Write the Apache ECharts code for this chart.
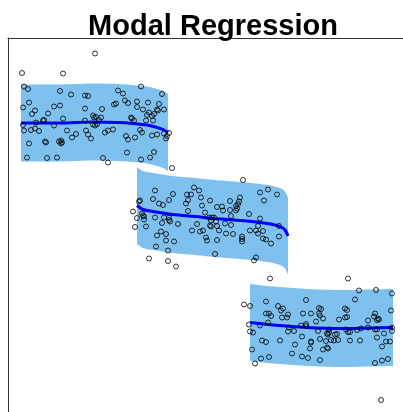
<!DOCTYPE html>
<html>
<head>
<meta charset="utf-8">
<script src="https://cdn.jsdelivr.net/npm/echarts@6/dist/echarts.min.js"></script>
<style>html,body{margin:0;padding:0;background:#fff}#c{width:403px;height:412px}</style>
</head>
<body>
<div id="c"></div>
<script>
const titleText = 'Modal Regression';

const cluster1Points = [
[0.87,7.17],[0.14,6.78],[0.55,6.77],[0.16,6.51],[0.20,6.46],[0.52,6.42],[0.63,6.35],[0.77,6.33],[0.80,6.32],
[1.10,6.43],[1.15,6.37],[1.33,6.51],[1.54,6.36],[0.21,6.19],[0.15,6.09],[0.46,6.11],[0.52,6.13],[0.27,6.03],
[0.24,5.96],[0.40,5.97],[0.77,6.07],[0.85,5.93],[0.86,5.89],[0.94,6.06],[1.06,6.15],[1.08,6.17],[1.17,6.23],
[1.20,6.18],[1.29,6.21],[1.29,6.10],[1.40,6.19],[1.51,6.16],[1.35,6.05],[1.41,5.99],[1.39,5.94],[1.44,5.92],
[1.46,5.96],[1.49,6.05],[1.50,6.03],[1.56,6.05],[0.55,5.87],[0.28,5.79],[0.35,5.83],[0.36,5.84],[0.77,5.83],
[0.85,5.75],[0.87,5.73],[0.93,5.89],[0.91,5.84],[1.23,5.89],[1.24,5.87],[1.26,5.83],[1.38,5.83],[1.45,5.83],
[0.15,5.74],[0.16,5.63],[0.23,5.64],[0.27,5.67],[0.31,5.62],[0.46,5.73],[0.59,5.63],[0.78,5.63],[0.80,5.55],
[0.83,5.47],[0.68,5.56],[0.64,5.49],[0.97,5.59],[1.00,5.63],[1.05,5.65],[1.18,5.52],[1.20,5.45],[1.27,5.49],
[1.32,5.64],[1.34,5.59],[1.44,5.53],[1.49,5.55],[1.56,5.57],[1.59,5.52],[1.61,5.58],[1.58,5.47],[0.21,5.37],
[0.37,5.41],[0.38,5.39],[0.51,5.41],[0.53,5.37],[0.54,5.39],[0.19,5.09],[0.39,5.08],[0.49,5.09],[0.95,5.08],
[1.00,4.99],[1.19,5.19],[1.33,5.05],[1.42,5.09],[1.46,5.20],[1.64,4.88],[0.88,5.90],[0.89,5.76],[0.53,5.43]
];

const cluster2Points = [
[2.35,4.64],[1.47,4.43],[1.65,4.36],[1.86,4.49],[1.91,4.43],[1.79,4.35],[1.83,4.35],[1.45,4.26],[1.61,4.24],
[1.80,4.24],[1.93,4.29],[2.02,4.23],[2.22,4.22],[2.32,4.29],[2.31,4.21],[2.30,4.16],[2.28,4.12],[2.29,4.07],
[2.28,4.03],[2.52,4.39],[2.60,4.45],[2.69,4.35],[2.56,4.23],[1.32,4.23],[1.31,4.21],[1.51,4.17],[1.55,4.14],
[1.78,4.17],[1.94,4.13],[2.09,4.10],[2.14,4.11],[2.15,4.03],[1.80,4.02],[1.97,3.99],[2.22,4.04],[2.41,3.96],
[1.25,4.01],[1.34,3.97],[1.35,3.93],[1.36,3.91],[1.36,3.85],[1.29,3.88],[1.47,3.89],[1.56,3.89],[1.61,3.89],
[1.61,3.84],[1.62,3.81],[1.54,3.78],[1.70,3.76],[1.89,3.76],[2.01,3.89],[2.03,3.83],[2.04,3.89],[2.06,3.89],
[2.08,3.81],[2.03,3.71],[2.09,3.72],[2.11,3.63],[2.17,3.77],[2.23,3.74],[2.23,3.92],[2.52,3.87],[2.50,3.72],
[2.71,3.72],[1.27,3.70],[1.38,3.71],[1.53,3.61],[1.58,3.56],[1.49,3.53],[1.84,3.63],[1.92,3.61],[1.95,3.63],
[1.98,3.49],[1.99,3.43],[2.09,3.44],[2.18,3.57],[2.25,3.56],[2.34,3.51],[2.34,3.46],[2.34,3.41],[2.42,3.63],
[2.48,3.63],[2.50,3.57],[2.55,3.62],[2.55,3.47],[2.58,3.45],[2.63,3.37],[2.71,3.51],[1.58,3.43],[1.66,3.41],
[1.48,3.31],[1.60,3.23],[2.07,3.16],[1.41,3.07],[1.60,3.02],[1.68,2.91],[2.48,3.09],[2.46,3.03],[2.62,2.67],
[2.02,3.73]
];

const cluster3Points = [
[3.40,2.67],[3.51,2.43],[3.68,2.44],[3.84,2.37],[3.47,2.25],[2.58,2.21],[2.98,2.24],[2.36,2.15],[2.42,2.12],
[2.70,2.12],[2.73,2.03],[2.75,2.07],[3.11,2.08],[3.13,2.06],[3.37,2.07],[3.39,2.04],[2.58,1.97],[2.61,1.97],
[2.63,1.92],[2.80,1.95],[2.79,1.89],[2.95,1.97],[3.03,1.97],[3.11,1.97],[3.12,1.93],[3.15,1.87],[3.39,1.90],
[3.37,1.89],[3.31,1.85],[3.67,1.97],[3.66,1.91],[3.70,1.87],[3.69,1.84],[3.71,1.85],[3.83,2.03],[3.60,1.83],
[2.74,1.89],[2.60,1.79],[2.41,1.75],[2.52,1.73],[2.81,1.69],[2.80,1.61],[2.86,1.62],[2.93,1.73],[2.98,1.76],
[2.98,1.72],[3.08,1.81],[3.10,1.62],[3.21,1.65],[3.19,1.57],[3.20,1.55],[3.21,1.59],[3.38,1.65],[3.40,1.60],
[3.42,1.60],[3.49,1.64],[3.53,1.67],[3.60,1.69],[3.67,1.65],[3.69,1.65],[3.76,1.57],[3.84,1.62],[3.84,1.69],
[2.42,1.61],[2.45,1.59],[2.94,1.51],[3.27,1.55],[3.29,1.56],[3.26,1.43],[3.30,1.44],[3.12,1.46],[3.18,1.42],
[3.23,1.44],[3.42,1.43],[3.52,1.43],[3.69,1.49],[2.54,1.43],[2.58,1.40],[2.72,1.43],[2.87,1.35],[3.03,1.41],
[3.03,1.39],[3.78,1.41],[3.82,1.41],[3.74,1.31],[2.44,1.25],[3.02,1.27],[3.15,1.25],[3.19,1.29],[3.20,1.27],
[2.84,1.17],[2.61,1.10],[2.53,1.07],[2.94,1.11],[3.00,1.08],[3.12,1.04],[3.80,1.06],[3.74,1.03],[3.67,0.98],
[2.47,0.97],[3.73,0.24]
];

// Modal regression curves (x, mode)
const curve1X = [0.13,0.50,0.85,1.10,1.25,1.39,1.49,1.55,1.60];
const curve1Y = [5.78,5.78,5.80,5.79,5.77,5.74,5.69,5.65,5.59];
const band1Upper = [6.55,6.55,6.57,6.56,6.54,6.51,6.46,6.42,6.36];
const band1Lower = [5.01,5.01,5.03,5.02,5.00,4.97,4.92,4.88,4.82];

const curve2X = [1.29,1.35,1.45,1.65,1.87,2.07,2.32,2.52,2.65,2.73,2.77,2.80];
const curve2Y = [4.13,4.05,4.01,3.95,3.91,3.87,3.83,3.79,3.75,3.70,3.64,3.52];
const band2Upper = [4.90,4.82,4.78,4.72,4.68,4.64,4.60,4.56,4.52,4.47,4.41,4.29];
const band2Lower = [3.36,3.28,3.24,3.18,3.14,3.10,3.06,3.02,2.98,2.93,2.87,2.75];

const curve3X = [2.42,2.65,2.99,3.32,3.62,3.85];
const curve3Y = [1.79,1.74,1.69,1.67,1.68,1.69];
const band3Upper = [2.56,2.51,2.46,2.44,2.45,2.46];
const band3Lower = [1.02,0.97,0.92,0.90,0.91,0.92];

const bandColor = '#7EC0EE';
const curveColor = '#0000FF';

function catmull(pts, steps) {
  const out = [];
  const n = pts.length;
  for (let i = 0; i < n - 1; i++) {
    const p0 = pts[Math.max(i - 1, 0)], p1 = pts[i], p2 = pts[i + 1], p3 = pts[Math.min(i + 2, n - 1)];
    for (let s = 0; s < steps; s++) {
      const t = s / steps, t2 = t * t, t3 = t2 * t;
      const f = (a, b, c, d) => 0.5 * ((2 * b) + (-a + c) * t + (2 * a - 5 * b + 4 * c - d) * t2 + (-a + 3 * b - 3 * c + d) * t3);
      out.push([f(p0[0], p1[0], p2[0], p3[0]), f(p0[1], p1[1], p2[1], p3[1])]);
    }
  }
  out.push(pts[n - 1]);
  return out;
}

function bandSeries(xs, lo, up) {
  return {
    type: 'custom',
    z: 1,
    silent: true,
    clip: false,
    data: xs.map((x, i) => [x, lo[i], up[i]]),
    encode: { x: 0, y: [1, 2] },
    renderItem: function (params, api) {
      if (params.dataIndex !== 0) return null;
      const upPx = xs.map((x, i) => api.coord([x, up[i]]));
      const loPx = xs.map((x, i) => api.coord([x, lo[i]]));
      const poly = catmull(upPx, 10).concat(catmull(loPx, 10).reverse());
      return { type: 'polygon', shape: { points: poly }, style: { fill: bandColor } };
    }
  };
}

function curveSeries(xs, ys) {
  return {
    type: 'line', z: 3, smooth: 0.35, symbol: 'none', silent: true,
    data: xs.map((x, i) => [x, ys[i]]),
    lineStyle: { color: curveColor, width: 3 }
  };
}

function pointSeries(pts) {
  return {
    type: 'scatter', z: 4, symbol: 'circle', symbolSize: 5, silent: true, clip: false,
    data: pts,
    itemStyle: { color: 'rgba(0,0,0,0)', borderColor: '#000', borderWidth: 1 }
  };
}

const chart = echarts.init(document.getElementById('c'), null, { renderer: 'canvas' });
chart.setOption({
  animation: false,
  backgroundColor: '#fff',
  title: {
    text: titleText, left: 208, top: 7, textAlign: 'center',
    textStyle: { fontFamily: 'Liberation Sans, Arial, sans-serif', fontWeight: 'bold', fontSize: 29, color: '#000' }
  },
  grid: { left: 8, top: 38, right: 0, bottom: 0, containLabel: false },
  xAxis: {
    type: 'value', min: 0, max: 3.95, position: 'top',
    axisLine: { show: true, onZero: false, lineStyle: { color: '#333', width: 1 } },
    axisTick: { show: false }, axisLabel: { show: false }, splitLine: { show: false }
  },
  yAxis: {
    type: 'value', min: 0, max: 7.48, position: 'left',
    axisLine: { show: true, onZero: false, lineStyle: { color: '#333', width: 1 } },
    axisTick: { show: false }, axisLabel: { show: false }, splitLine: { show: false }
  },
  series: [
    bandSeries(curve1X, band1Lower, band1Upper),
    bandSeries(curve2X, band2Lower, band2Upper),
    bandSeries(curve3X, band3Lower, band3Upper),
    curveSeries(curve1X, curve1Y),
    curveSeries(curve2X, curve2Y),
    curveSeries(curve3X, curve3Y),
    pointSeries(cluster1Points),
    pointSeries(cluster2Points),
    pointSeries(cluster3Points)
  ]
});
</script>
</body>
</html>
